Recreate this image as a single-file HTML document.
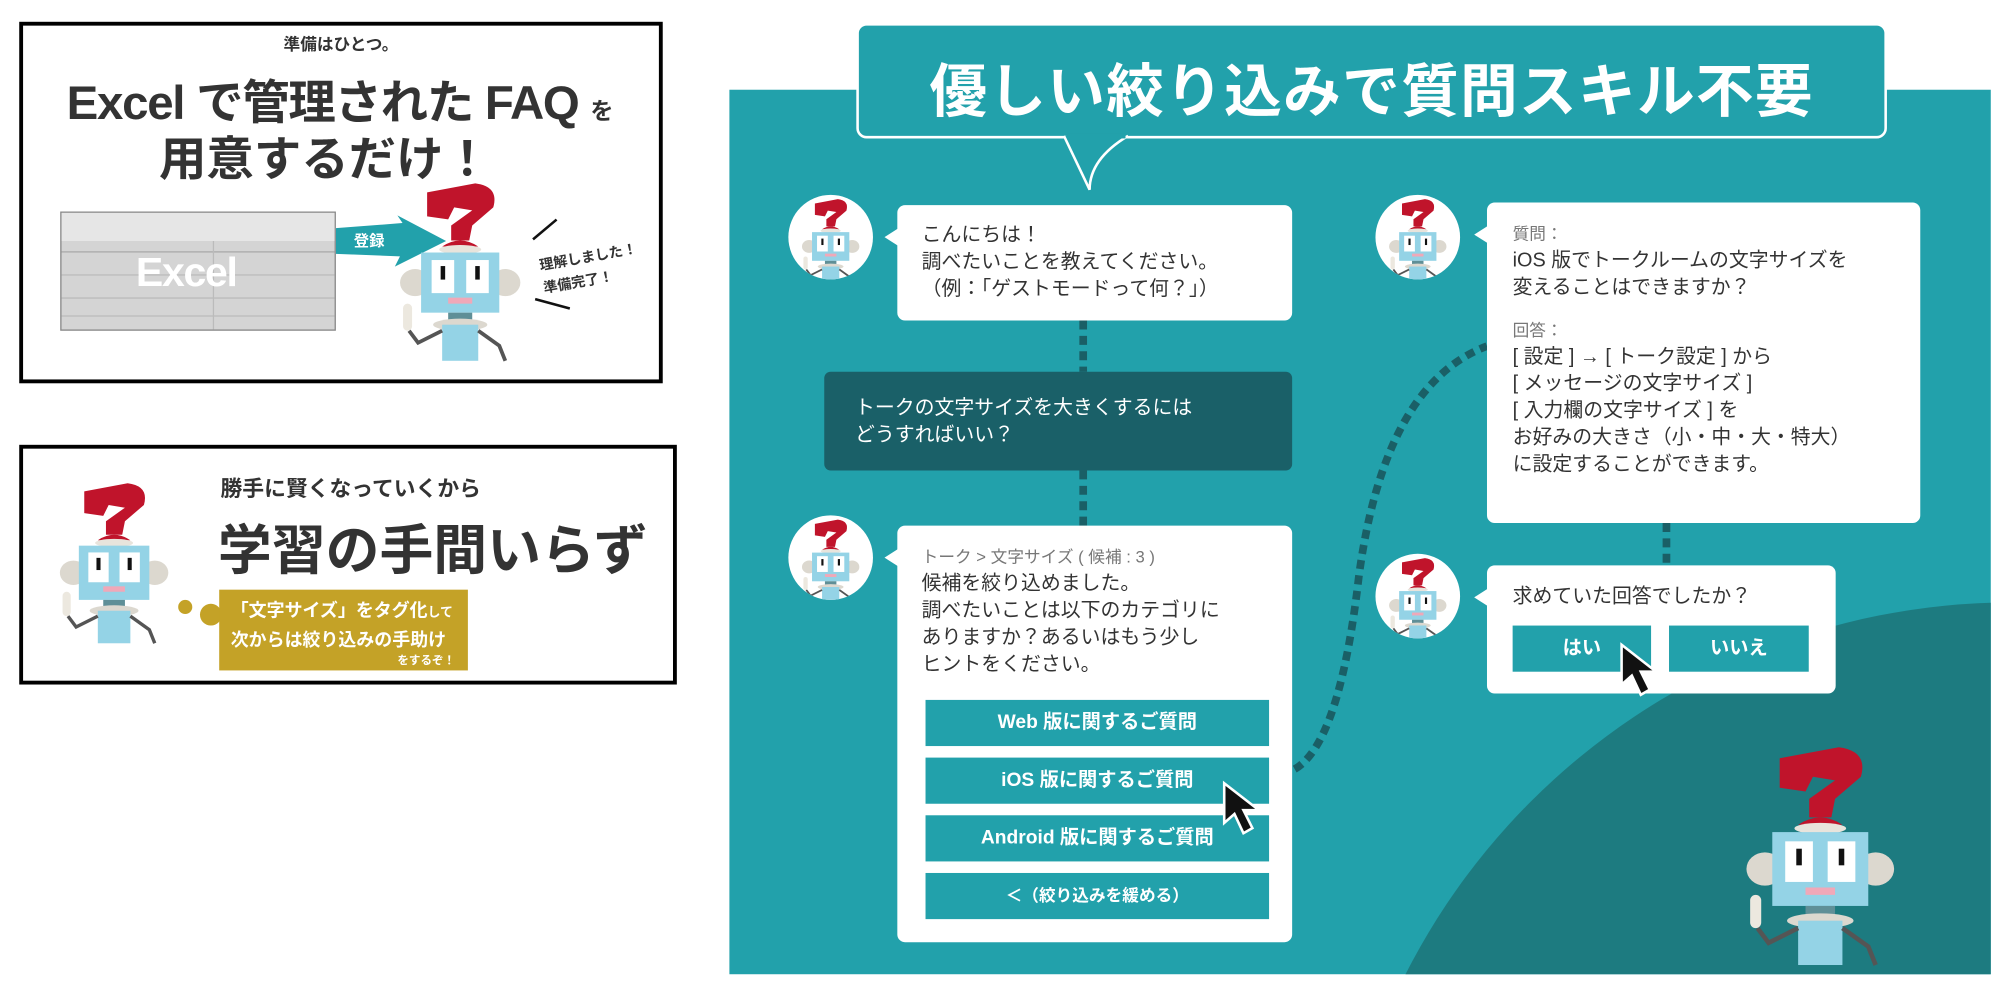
<!DOCTYPE html>
<html><head><meta charset="utf-8">
<style>
html,body{margin:0;padding:0;background:#fff;width:2010px;height:994px;overflow:hidden;}
body{position:relative;}
#w{position:absolute;left:0;top:0;width:1568px;height:775px;transform:scale(1.28189);transform-origin:0 0;font-family:"Liberation Sans","Noto Sans CJK JP",sans-serif;overflow:hidden;}
.a{position:absolute;}
.box{position:absolute;border:3px solid #000;background:#fff;box-sizing:border-box;}
.t{position:absolute;white-space:nowrap;font-weight:bold;color:#333;}
.bub{position:absolute;background:#fff;border-radius:6px;box-sizing:border-box;color:#333;font-size:15.5px;line-height:21px;}
.bub:before{content:"";position:absolute;left:-10px;top:18px;border-right:11px solid #fff;border-top:7px solid transparent;border-bottom:7px solid transparent;}
.btn{position:absolute;background:#22a1ab;color:#fff;font-size:15px;font-weight:bold;text-align:center;box-sizing:border-box;}
.av{position:absolute;width:66px;height:66px;border-radius:50%;background:#fff;overflow:hidden;}
</style></head><body>
<svg width="0" height="0" style="position:absolute;left:0;top:0">
<defs>
<g id="robot">
<path d="M30 8 L62 2 Q78 4 74 18 L60 30 L58 40 L46 40 L46 30 L60 20 L48 18 L44 26 L30 24 Z" fill="#c0142b"/>
<path d="M40 44 Q52 36 64 44 Z" fill="#c0142b"/>
<ellipse cx="52" cy="46" rx="14" ry="3" fill="#e8e4dc"/>
<ellipse cx="22" cy="68" rx="10" ry="9" fill="#dcd8cf"/>
<ellipse cx="82" cy="68" rx="10" ry="9" fill="#dcd8cf"/>
<rect x="26" y="48" width="52" height="40" fill="#94d3e6"/>
<rect x="33" y="53" width="15" height="22" fill="#fff"/>
<rect x="56" y="53" width="15" height="22" fill="#fff"/>
<rect x="39" y="57" width="3" height="9" fill="#111"/>
<rect x="62" y="57" width="3" height="9" fill="#111"/>
<rect x="44" y="78" width="16" height="4" fill="#f0a8b8"/>
<rect x="44" y="88" width="16" height="7" fill="#5f8f97"/>
<ellipse cx="52" cy="96" rx="18" ry="4" fill="#dcd8cf"/>
<rect x="40" y="96" width="24" height="24" fill="#94d3e6"/>
<path d="M40 100 L24 108 L18 100" stroke="#555" stroke-width="2.5" fill="none"/>
<path d="M64 100 L78 110 L82 120" stroke="#555" stroke-width="2.5" fill="none"/>
<rect x="14" y="82" width="6" height="18" rx="3" fill="#ece8df"/>
</g>
</defs>
</svg>
<div id="w">
<!-- LEFT BOX 1 -->
<div class="box" style="left:15px;top:17px;width:502px;height:282px;"></div>
<div class="t" style="left:15px;width:502px;text-align:center;top:24px;font-size:13px;">準備はひとつ。</div>
<div class="t" style="left:52px;top:50px;font-size:37px;letter-spacing:-1px;">Excel で管理された FAQ <span style="font-size:18px">を</span></div>
<div class="t" style="left:124px;top:94px;font-size:37px;">用意するだけ！</div>
<div class="a" style="left:47px;top:165px;width:215px;height:93px;background:#d4d4d4;border:1px solid #888;box-sizing:border-box;overflow:hidden;">
 <div class="a" style="left:0;top:0;width:215px;height:22px;background:#e6e6e6;"></div>
 <div class="a" style="left:0;top:30px;width:215px;height:1px;background:#aaa;"></div>
 <div class="a" style="left:0;top:48px;width:215px;height:1px;background:#bbb;"></div>
 <div class="a" style="left:0;top:66px;width:215px;height:1px;background:#bbb;"></div>
 <div class="a" style="left:0;top:80px;width:215px;height:1px;background:#bbb;"></div>
 <div class="a" style="left:118px;top:22px;width:1px;height:70px;background:#bbb;"></div>
 <div class="t" style="left:58px;top:28px;font-size:32px;color:#fff;letter-spacing:-1px;">Excel</div>
</div>
<svg class="a" style="left:262px;top:168px" width="90" height="42"><path d="M0 10 L52 6 L48 0 L86 20 L46 40 L50 32 L0 30 Z" fill="#22a1ab"/><text x="14" y="24" font-size="12" font-weight="bold" fill="#fff" font-family="Liberation Sans,Noto Sans CJK JP,sans-serif">登録</text></svg>
<svg class="a" style="left:298px;top:138px" width="122" height="152" viewBox="0 0 104 125"><use href="#robot"/></svg>
<div class="t" style="left:422px;top:192px;font-size:11px;transform:rotate(-10deg);line-height:18px;">理解しました！<br>準備完了！</div>
<div class="a" style="left:413px;top:178px;width:24px;height:2px;background:#111;transform:rotate(-40deg);"></div>
<div class="a" style="left:417px;top:236px;width:28px;height:2px;background:#111;transform:rotate(15deg);"></div>
<!-- LEFT BOX 2 -->
<div class="box" style="left:15px;top:347px;width:513px;height:187px;"></div>
<svg class="a" style="left:34px;top:367px" width="110" height="148" viewBox="0 0 104 125"><use href="#robot"/></svg>
<div class="t" style="left:172px;top:367px;font-size:17px;">勝手に賢くなっていくから</div>
<div class="t" style="left:170px;top:396px;font-size:42px;">学習の手間いらず</div>
<div class="a" style="left:139px;top:468px;width:11px;height:11px;border-radius:50%;background:#c4a227;"></div>
<div class="a" style="left:156px;top:471px;width:17px;height:17px;border-radius:50%;background:#c4a227;"></div>
<div class="a" style="left:171px;top:460px;width:194px;height:63px;background:#c4a227;"></div>
<div class="t" style="left:180px;top:466px;font-size:14px;color:#fff;line-height:20px;">「文字サイズ」をタグ化<span style="font-size:10px">して</span><br>次からは絞り込みの手助け</div>
<div class="t" style="left:310px;top:508px;font-size:9px;color:#fff;">をするぞ！</div>

<!-- RIGHT PANEL -->
<div class="a" style="left:569px;top:70px;width:984px;height:690px;background:#22a1ab;overflow:hidden;">
 <div class="a" style="left:470px;top:400px;width:1060px;height:1060px;border-radius:50%;background:#1d7b80;"></div>
</div>
<div class="a" style="left:668px;top:18px;width:804px;height:90px;background:#22a1ab;border:2px solid #fff;border-radius:8px;box-sizing:border-box;"></div>
<svg class="a" style="left:820px;top:104px" width="70" height="50"><path d="M10 2 L30 44 Q30 20 60 2" fill="#22a1ab" stroke="#fff" stroke-width="2"/><rect x="12" y="0" width="46" height="4" fill="#22a1ab"/></svg>
<div class="t" style="left:668px;width:804px;text-align:center;top:35px;font-size:45px;color:#fff;letter-spacing:1px;">優しい絞り込みで質問スキル不要</div>

<!-- connectors -->
<svg class="a" style="left:0;top:0" width="1568" height="775">
<line x1="845" y1="250" x2="845" y2="290" stroke="#1a5f66" stroke-width="6" stroke-dasharray="7,5"/>
<line x1="845" y1="367" x2="845" y2="410" stroke="#1a5f66" stroke-width="6" stroke-dasharray="7,5"/>
<line x1="1300" y1="408" x2="1300" y2="441" stroke="#1a5f66" stroke-width="6" stroke-dasharray="7,5"/>
<path d="M1010 600 Q1045 580 1060 450 Q1080 300 1160 270" stroke="#1a5f66" stroke-width="6" fill="none" stroke-dasharray="7,5"/>
</svg>

<!-- avatars -->
<div class="av" style="left:615px;top:152px"><svg width="66" height="66" viewBox="-4 -4 112 118"><use href="#robot"/></svg></div>
<div class="av" style="left:615px;top:402px"><svg width="66" height="66" viewBox="-4 -4 112 118"><use href="#robot"/></svg></div>
<div class="av" style="left:1073px;top:152px"><svg width="66" height="66" viewBox="-4 -4 112 118"><use href="#robot"/></svg></div>
<div class="av" style="left:1073px;top:432px"><svg width="66" height="66" viewBox="-4 -4 112 118"><use href="#robot"/></svg></div>

<div class="bub" style="left:700px;top:160px;width:308px;height:90px;padding:13px 0 0 19px;">こんにちは！<br>調べたいことを教えてください。<br>（例：「ゲストモードって何？」）</div>
<div class="a" style="left:643px;top:290px;width:365px;height:77px;background:#1a6068;border-radius:5px;color:#fff;font-size:15.5px;line-height:21px;padding:18px 0 0 24px;box-sizing:border-box;">トークの文字サイズを大きくするには<br>どうすればいい？</div>
<div class="bub" style="left:700px;top:410px;width:308px;height:325px;padding:14px 0 0 19px;"><span style="font-size:13px;color:#777">トーク &gt; 文字サイズ ( 候補 : 3 )</span><br>候補を絞り込めました。<br>調べたいことは以下のカテゴリに<br>ありますか？あるいはもう少し<br>ヒントをください。</div>
<div class="btn" style="left:722px;top:546px;width:268px;height:36px;line-height:36px;">Web 版に関するご質問</div>
<div class="btn" style="left:722px;top:591px;width:268px;height:36px;line-height:36px;">iOS 版に関するご質問</div>
<div class="btn" style="left:722px;top:636px;width:268px;height:36px;line-height:36px;">Android 版に関するご質問</div>
<div class="btn" style="left:722px;top:681px;width:268px;height:36px;line-height:36px;font-size:13px;">＜（絞り込みを緩める）</div>
<svg class="a" style="left:952px;top:608px" width="40" height="48"><path d="M3 3 L3 34 L11 27 L18 42 L25 38 L18 24 L30 24 Z" fill="#111" stroke="#fff" stroke-width="2"/></svg>

<div class="bub" style="left:1160px;top:158px;width:338px;height:250px;padding:14px 0 0 20px;"><span style="font-size:13px;color:#777">質問：</span><br>iOS 版でトークルームの文字サイズを<br>変えることはできますか？<br><div style="height:12px"></div><span style="font-size:13px;color:#777">回答：</span><br>[ 設定 ] → [ トーク設定 ] から<br>[ メッセージの文字サイズ ]<br>[ 入力欄の文字サイズ ] を<br>お好みの大きさ（小・中・大・特大）<br>に設定することができます。</div>
<div class="bub" style="left:1160px;top:441px;width:272px;height:100px;padding:14px 0 0 20px;">求めていた回答でしたか？</div>
<div class="btn" style="left:1180px;top:488px;width:108px;height:36px;line-height:36px;">はい</div>
<div class="btn" style="left:1302px;top:488px;width:109px;height:36px;line-height:36px;">いいえ</div>
<svg class="a" style="left:1262px;top:500px" width="40" height="48"><path d="M3 3 L3 34 L11 27 L18 42 L25 38 L18 24 L30 24 Z" fill="#111" stroke="#fff" stroke-width="2"/></svg>

<svg class="a" style="left:1345px;top:580px" width="150" height="180" viewBox="0 0 104 125"><use href="#robot"/></svg>
</div>
</body></html>
